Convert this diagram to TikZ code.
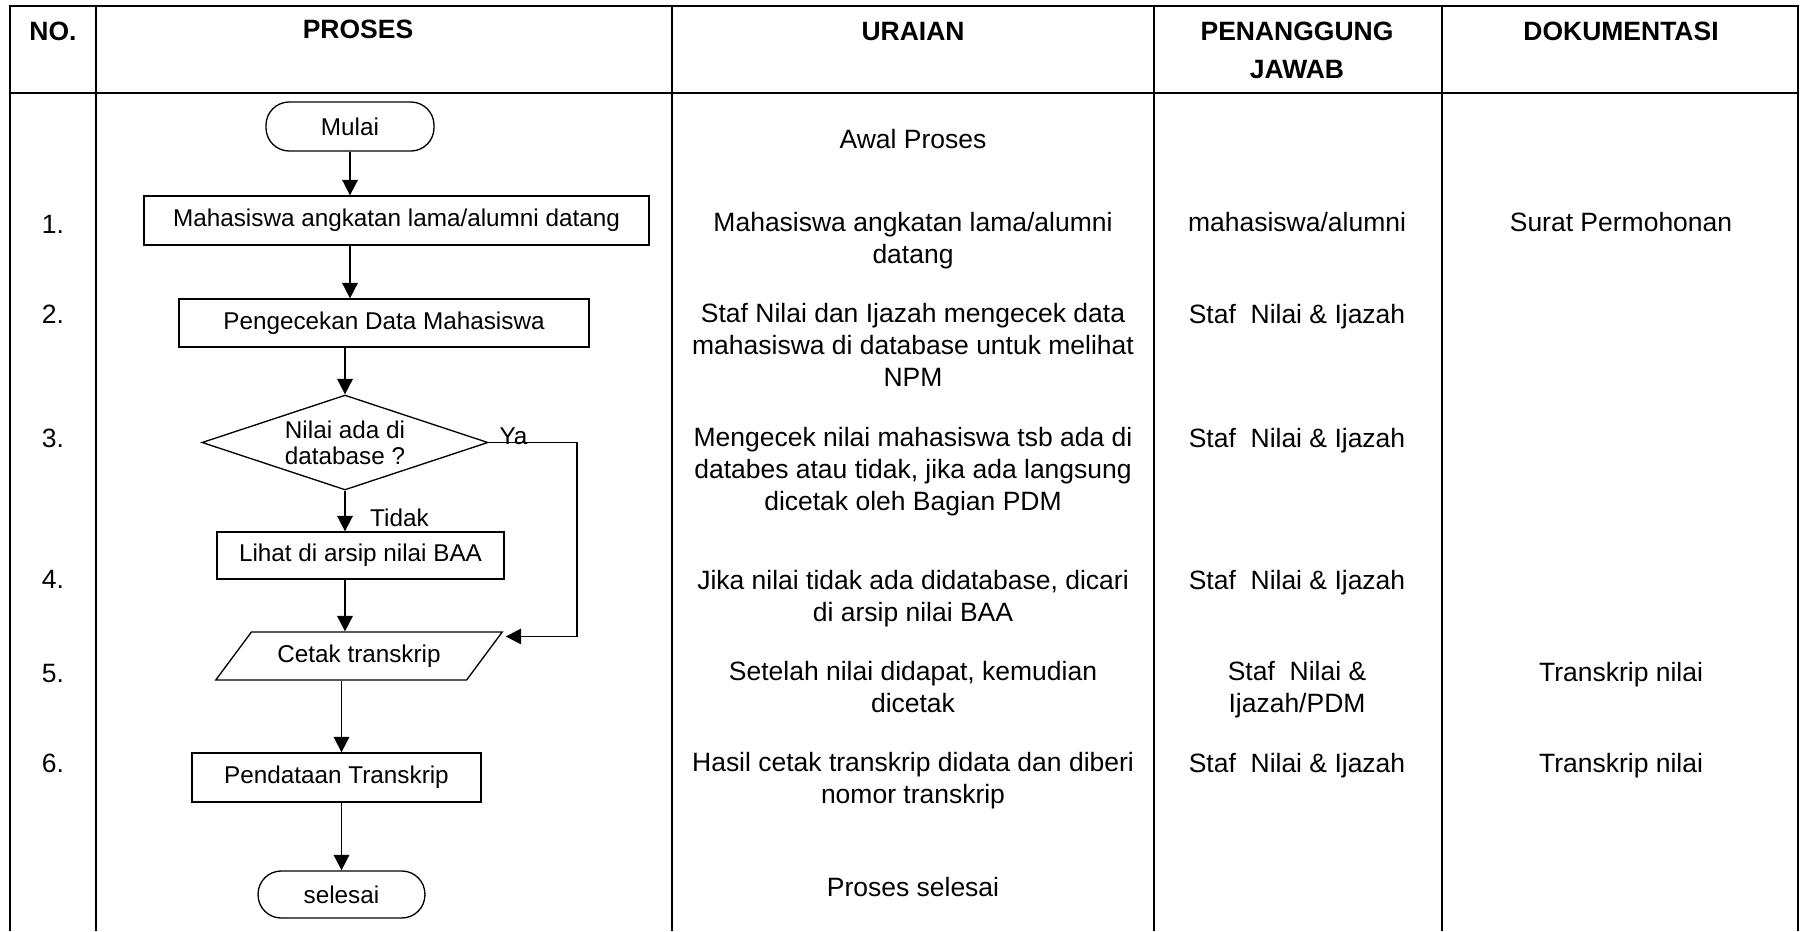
\documentclass[tikz,border=0pt]{standalone}
\usepackage{fontspec}
\setmainfont{Liberation Sans}
\usetikzlibrary{arrows.meta,shapes.geometric}

\begin{document}
\begin{tikzpicture}[x=0.453pt, y=-0.453pt,
  tabline/.style={line width=0.9pt},
  head/.style={font=\fontsize{12}{17.2}\selectfont\bfseries, align=center, anchor=base, inner sep=0pt},
  cell/.style={font=\fontsize{12}{14.3}\selectfont, align=center, anchor=base, inner sep=0pt},
  proc/.style={draw, line width=0.6pt, inner sep=0pt, font=\fontsize{11}{11.8}\selectfont},
  term/.style={proc, rounded corners=10.5pt},
  decide/.style={proc, diamond, aspect=3, align=center},
  io/.style={proc, trapezium, trapezium left angle=40, trapezium right angle=140, trapezium stretches=true},
  flow/.style={-{Triangle[length=7pt,width=7pt]}, line width=0.8pt},
  lbl/.style={font=\fontsize{11}{13}\selectfont, inner sep=0pt}]
	\useasboundingbox (0,0) rectangle (1804,931);
	\draw[tabline] (10,931) -- (10,6) -- (1798,6) -- (1798,931);
	\draw[tabline] (10,93) -- (1798,93);
	\foreach \x in {96,672,1154,1442} \draw[tabline] (\x,6) -- (\x,931);

	% multi-line cells sit on the baseline of their last line
	\node[head] (hno) at (53,40) {NO.};
	\node[head] (hproses) at (358,38) {PROSES};
	\node[head] (huraian) at (913,40) {URAIAN};
	\node[head] (hpj) at (1297,78) {PENANGGUNG\\JAWAB};
	\node[head] (hdok) at (1621,40) {DOKUMENTASI};

	\foreach \n/\y in {1/233,2/323,3/447,4/588,5/682,6/772}
		\node[cell] (no\n) at (53,\y) {\n.};

	\node[cell] (ur0) at (913,148) {Awal Proses};
	\node[cell] (ur1) at (913,263) {Mahasiswa angkatan lama/alumni\\datang};
	\node[cell] (ur2) at (913,386) {Staf Nilai dan Ijazah mengecek data\\mahasiswa di database untuk melihat\\NPM};
	\node[cell] (ur3) at (913,510) {Mengecek nilai mahasiswa tsb ada di\\databes atau tidak, jika ada langsung\\dicetak oleh Bagian PDM};
	\node[cell] (ur4) at (913,621) {Jika nilai tidak ada didatabase, dicari\\di arsip nilai BAA};
	\node[cell] (ur5) at (913,712) {Setelah nilai didapat, kemudian\\dicetak};
	\node[cell] (ur6) at (913,803) {Hasil cetak transkrip didata dan diberi\\nomor transkrip};
	\node[cell] (ur7) at (913,896) {Proses selesai};

	\node[cell] (pj1) at (1297,231) {mahasiswa/alumni};
	\node[cell] (pj2) at (1297,323) {Staf\ \ Nilai \& Ijazah};
	\node[cell] (pj3) at (1297,447) {Staf\ \ Nilai \& Ijazah};
	\node[cell] (pj4) at (1297,589) {Staf\ \ Nilai \& Ijazah};
	\node[cell] (pj5) at (1297,712) {Staf\ \ Nilai \&\\Ijazah/PDM};
	\node[cell] (pj6) at (1297,772) {Staf\ \ Nilai \& Ijazah};

	\node[cell] (dok1) at (1621,231) {Surat Permohonan};
	\node[cell] (dok5) at (1621,681) {Transkrip nilai};
	\node[cell] (dok6) at (1621,772) {Transkrip nilai};

	\node[term, minimum width=76.1pt, minimum height=22.2pt] (mulai) at (350,126.5) {Mulai};
	\node[proc, minimum width=228.8pt, minimum height=22.2pt] (datang) at (396.5,220.5) {Mahasiswa angkatan lama/alumni datang};
	\node[proc, minimum width=185.7pt, minimum height=21.7pt] (cekdata) at (384,323) {Pengecekan Data Mahasiswa};
	\node[decide, minimum width=129.6pt, minimum height=43pt] (nilaidb) at (345,442.5) {Nilai ada di\\database ?};
	\node[proc, minimum width=130pt, minimum height=21.3pt] (arsip) at (360.5,555.5) {Lihat di arsip nilai BAA};
	\node[io, minimum width=130.5pt, minimum height=21.7pt] (cetak) at (359,656) {Cetak transkrip};
	\node[proc, minimum width=130.9pt, minimum height=22.2pt] (pendataan) at (336.5,777.5) {Pendataan Transkrip};
	\node[term, minimum width=75.6pt, minimum height=21.3pt] (selesai) at (341.5,894.5) {selesai};

	\draw[flow] (mulai.south) -- (mulai.south |- datang.north);
	\draw[flow] (datang.south -| mulai) -- (cekdata.north -| mulai);
	\draw[flow] (cekdata.south -| nilaidb) -- (nilaidb.north);
	\draw[flow] (nilaidb.south) -- (nilaidb.south |- arsip.north)
		node[lbl, pos=1, anchor=base west, xshift=11pt, yshift=2.3pt] (tidak) {Tidak};
	\draw[flow] (arsip.south -| nilaidb) -- (cetak.north -| nilaidb);
	\draw[flow] (nilaidb.east) -- ++(88,0)
		node[lbl, pos=0, anchor=base west, xshift=4.5pt, yshift=-1pt] (ya) {Ya}
		|- ([xshift=1pt,yshift=-2.3pt]cetak.top right corner);
	\draw[flow] (cetak.south -| selesai) -- (pendataan.north -| selesai);
	\draw[flow] (pendataan.south -| selesai) -- (selesai.north);
\end{tikzpicture}
\end{document}
